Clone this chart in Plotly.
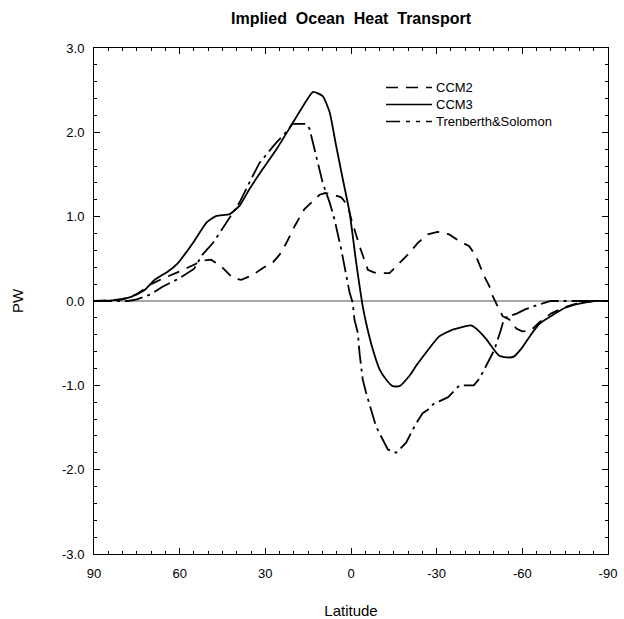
import plotly.graph_objects as go

# ---- data ----
lat_ccm2 = [90, 80, 75, 70, 65, 60, 55, 52, 49, 45.4,
            41.3, 38.4, 34.3, 31.4, 27.3, 25, 22.6, 19.7, 16.3, 13.9,
            11, 9, 7.5, 3.4, 1.1, -0.1, -1.8, -3, -5.9, -8,
            -10, -13.5, -17, -20.5, -23.4, -26.9, -30.3, -34.4, -37.9, -41.4,
            -43.8, -44.9, -46.7, -48.4, -49.6, -51.3, -53.1, -55.4, -58, -60,
            -63, -66, -70, -75, -80, -85, -90]
ccm2 = [0, 0.02, 0.08, 0.2, 0.28, 0.35, 0.43, 0.48, 0.49, 0.41,
        0.27, 0.25, 0.31, 0.38, 0.46, 0.55, 0.69, 0.89, 1.09, 1.17,
        1.26, 1.28, 1.27, 1.23, 1.13, 0.97, 0.77, 0.65, 0.37, 0.34,
        0.33, 0.33, 0.45, 0.57, 0.69, 0.79, 0.82, 0.79, 0.71, 0.65,
        0.53, 0.43, 0.29, 0.18, 0.06, -0.06, -0.18, -0.22, -0.33, -0.36,
        -0.35, -0.25, -0.15, -0.07, -0.02, 0, 0]

lat_ccm3 = [90, 88.6, 82.8, 77, 72.3, 68.8, 64.1, 60.6, 58.3, 55.3,
            50.6, 47.1, 42.5, 39, 35.5, 30.8, 26.1, 21.5, 17, 13.3,
            9.9, 7.5, 5.2, 2.9, 0.5, -1.8, -4.1, -5.3, -7.6, -10,
            -12.5, -14.6, -17, -20.4, -23, -26.3, -30.9, -35.6, -42, -44.9,
            -47.3, -51.9, -55.4, -57, -60, -63, -66, -70, -75, -80,
            -85, -90]
ccm3 = [0, 0, 0.01, 0.05, 0.13, 0.25, 0.35, 0.45, 0.55, 0.69,
        0.93, 1.01, 1.03, 1.13, 1.33, 1.57, 1.80, 2.05, 2.30, 2.48,
        2.43, 2.24, 1.84, 1.45, 1.05, 0.46, -0.06, -0.26, -0.57, -0.81,
        -0.94, -1.01, -1.01, -0.89, -0.76, -0.61, -0.42, -0.34, -0.29, -0.36,
        -0.45, -0.65, -0.67, -0.66, -0.55, -0.40, -0.27, -0.18, -0.08, -0.03,
        0, 0]

lat_ts = [90, 78, 75, 70, 66, 63, 60, 55, 52, 48.3,
          43.6, 39, 35.5, 32, 26.1, 23.3, 20.5, 15.5, 14.5, 13.3,
          12.2, 9.9, 7.5, 5.8, 3.4, 2.3, 0.5, -0.6, -1.2, -2.4,
          -3, -4.1, -5.3, -8.8, -10, -12.9, -15.8, -19.3, -22.8, -25.1,
          -26.9, -29.2, -30.9, -34, -38, -43, -45, -47.3, -48.4, -50.2,
          -52.5, -53.7, -55.4, -58, -61, -65, -70, -90]
ts = [0, 0, 0.02, 0.08, 0.17, 0.22, 0.27, 0.38, 0.55, 0.69,
      0.93, 1.17, 1.41, 1.64, 1.88, 1.98, 2.1, 2.1, 2.04, 1.88,
      1.72, 1.40, 1.17, 0.97, 0.61, 0.41, 0.1, -0.02, -0.22, -0.38,
      -0.62, -0.93, -1.09, -1.49, -1.57, -1.76, -1.80, -1.68, -1.45, -1.33,
      -1.29, -1.21, -1.19, -1.14, -1.0, -1.0, -0.92, -0.77, -0.69, -0.58,
      -0.34, -0.2, -0.18, -0.15, -0.1, -0.05, 0, 0]

x_ticks = [90, 60, 30, 0, -30, -60, -90]
x_labels = ["90", "60", "30", "0", "-30", "-60", "-90"]
y_ticks = [3, 2, 1, 0, -1, -2, -3]
y_labels = ["3.0", "2.0", "1.0", "0.0", "-1.0", "-2.0", "-3.0"]
series_names = ["CCM2", "CCM3", "Trenberth&Solomon"]

assert len(lat_ccm2) == len(ccm2)
assert len(lat_ccm3) == len(ccm3)
assert len(lat_ts) == len(ts)

# ---- styles ----
FONT = "Liberation Sans, Arial, Helvetica, sans-serif"
DASH_CCM2 = "12px,8px"
DASH_TS = "18px,5px,3px,5px"
LW = 1.8

fig = go.Figure()
fig.add_trace(go.Scatter(x=lat_ccm2, y=ccm2, mode="lines", name=series_names[0],
                         line=dict(color="black", width=LW, dash=DASH_CCM2)))
fig.add_trace(go.Scatter(x=lat_ccm3, y=ccm3, mode="lines", name=series_names[1],
                         line=dict(color="black", width=LW, shape="spline", smoothing=0.5)))
fig.add_trace(go.Scatter(x=lat_ts, y=ts, mode="lines", name=series_names[2],
                         line=dict(color="black", width=LW, dash=DASH_TS)))

# plot area in pixels
W, H = 624, 619
L, R, T, B = 94, 608, 48, 554

def px_x(p):
    return (p - L) / (R - L)

def px_y(p):
    return (B - p) / (B - T)

# manual legend: one text block (3 lines) + line samples
LEG_FS = 13
line_h = 1.3 * LEG_FS
leg_mid = 104.5
leg_rows = [leg_mid - line_h, leg_mid, leg_mid + line_h]
leg_dash = [DASH_CCM2, "solid", "14px,6px,4px,6px,4px,6px"]
for yy, dd in zip(leg_rows, leg_dash):
    fig.add_shape(type="line", xref="paper", yref="paper",
                  x0=px_x(386), x1=px_x(432), y0=px_y(yy), y1=px_y(yy),
                  line=dict(color="black", width=1.5, dash=dd))
fig.add_annotation(xref="paper", yref="paper", x=px_x(434), y=px_y(leg_mid),
                   text="<br>".join(series_names), align="left",
                   showarrow=False, xanchor="left", yanchor="middle",
                   font=dict(family=FONT, size=LEG_FS, color="black"))

fig.update_layout(
    template="none",
    width=W, height=H,
    margin=dict(l=L, r=W - R, t=T, b=H - B, pad=0, autoexpand=False),
    paper_bgcolor="white", plot_bgcolor="white",
    showlegend=False,
    title=dict(text="<b>Implied\u00a0 Ocean\u00a0 Heat\u00a0 Transport</b>",
               x=(L + R) / 2 / W, xanchor="center", y=1 - 18 / H, yanchor="middle",
               xref="container", yref="container", automargin=False,
               font=dict(family=FONT, size=16, color="black")),
    font=dict(family=FONT, size=13, color="black"),
)

fig.update_xaxes(
    range=[90, -90], tickvals=x_ticks, ticktext=x_labels, automargin=False,
    ticks="inside", ticklen=6, tickwidth=1, tickcolor="black", ticklabelstandoff=7,
    minor=dict(dtick=5, tick0=0, ticks="inside", ticklen=3, tickcolor="black", tickwidth=1),
    showline=True, linecolor="black", linewidth=1, mirror="allticks",
    showgrid=False, zeroline=False,
    tickfont=dict(family=FONT, size=13, color="black"),
    title=dict(text="Latitude", standoff=27, font=dict(family=FONT, size=15, color="black")),
)
fig.update_yaxes(
    range=[-3, 3], tickvals=y_ticks, ticktext=y_labels, automargin=False,
    ticks="inside", ticklen=6, tickwidth=1, tickcolor="black", ticklabelstandoff=6,
    minor=dict(dtick=0.2, tick0=0, ticks="inside", ticklen=3, tickcolor="black", tickwidth=1),
    showline=True, linecolor="black", linewidth=1, mirror="allticks",
    showgrid=False, zeroline=True, zerolinecolor="#a8a8a8", zerolinewidth=1.5,
    tickfont=dict(family=FONT, size=13, color="black"),
    title=dict(text="PW", standoff=34, font=dict(family=FONT, size=15, color="black")),
)

fig.write_html("out.html", config={"displayModeBar": False},
               post_script="document.body.style.margin='0';")
